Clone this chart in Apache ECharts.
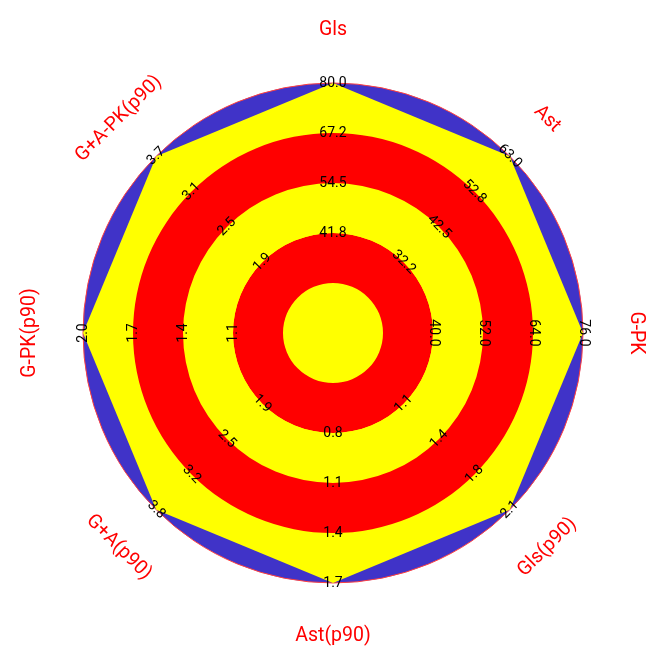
<!DOCTYPE html>
<html>
<head>
<meta charset="utf-8">
<script src="https://cdn.jsdelivr.net/npm/echarts@6/dist/echarts.min.js"></script>
<style>html,body{margin:0;padding:0;background:#fff}#c{width:666px;height:666px}</style>
</head>
<body>
<div id="c"></div>
<script>
// Indicators listed counter-clockwise from the top (ECharts radar order)
const names = ['Gls', 'G+A-PK(p90)', 'G-PK(p90)', 'G+A(p90)', 'Ast(p90)', 'Gls(p90)', 'G-PK', 'Ast'];
const mins = [16.25, 0.7, 0.5, 0.65, 0.2, 0.45, 16, 11.65];
const maxs = [80.0, 3.7, 2.0, 3.8, 1.7, 2.1, 76.0, 63.0];
const values = [80.0, 3.7, 2.0, 3.8, 1.7, 2.1, 76.0, 63.0];
// tick labels at rings 2..5
const tickLabels = [
  ['41.8', '54.5', '67.2', '80.0'],
  ['1.9', '2.5', '3.1', '3.7'],
  ['1.1', '1.4', '1.7', '2.0'],
  ['1.9', '2.5', '3.2', '3.8'],
  ['0.8', '1.1', '1.4', '1.7'],
  ['1.1', '1.4', '1.8', '2.1'],
  ['40.0', '52.0', '64.0', '76.0'],
  ['32.2', '42.5', '52.8', '63.0']
];
const rotations = [0, 45, 90, -45, 0, 45, -90, -45];

const chart = echarts.init(document.getElementById('c'));
const bgIndicators = names.map((n, i) => ({ name: n, min: mins[i], max: maxs[i] }));
const fgIndicators = names.map((n, i) => ({
  name: n, min: mins[i], max: maxs[i],
  nameRotate: rotations[i],
  axisLabel: {
    rotate: rotations[i],
    formatter: function (v) {
      const k = Math.round((v - mins[i]) / (maxs[i] - mins[i]) * 5);
      return k >= 2 ? tickLabels[i][k - 2] : '';
    }
  }
}));
chart.setOption({
  animation: false,
  radar: [
    {
      center: ['50%', '50%'], radius: 250, shape: 'circle', splitNumber: 1,
      indicator: bgIndicators, z: 1,
      axisName: { show: false },
      axisLine: { show: false }, axisTick: { show: false }, axisLabel: { show: false },
      splitLine: { show: true, lineStyle: { color: '#ff4040', width: 1 } },
      splitArea: { show: true, areaStyle: { color: ['#4033c8'] } }
    },
    {
      center: ['50%', '50%'], radius: 250, shape: 'circle', splitNumber: 5,
      indicator: fgIndicators, z: 3, nameGap: 53,
      axisName: { color: '#ff0000', fontSize: 19.5, fontFamily: 'Roboto', align: 'center', verticalAlign: 'middle' },
      axisLine: { show: false }, axisTick: { show: false },
      axisLabel: { show: true, margin: 0, color: '#000', fontSize: 14, fontFamily: 'Roboto', align: 'center', verticalAlign: 'middle', hideOverlap: false },
      splitLine: { show: false },
      splitArea: { show: true, areaStyle: { color: ['#ffff00', '#ff0000', '#ffff00', '#ff0000', 'rgba(0,0,0,0)'] } }
    }
  ],
  series: [{
    type: 'radar', radarIndex: 0, z: 2, symbol: 'none',
    lineStyle: { width: 0 },
    areaStyle: { color: '#ffff00', opacity: 1 },
    data: [{ value: values }]
  }]
});
</script>
</body>
</html>
